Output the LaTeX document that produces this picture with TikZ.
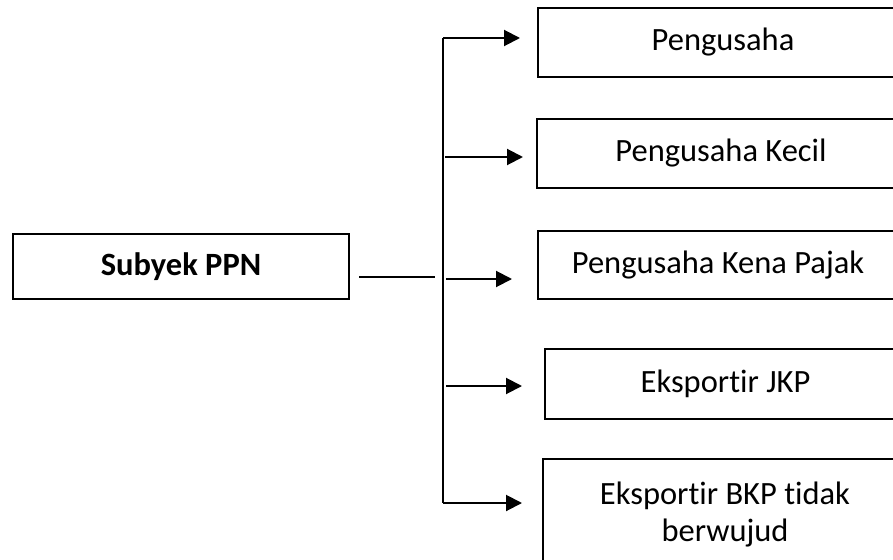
\documentclass[tikz,border=0pt]{standalone}
\usepackage{fontspec}
\setmainfont{Carlito}[Ligatures=CommonOff,RawFeature={-calt}]
\usetikzlibrary{arrows.meta}
\begin{document}
\begin{tikzpicture}[x=1pt,y=-1pt,
  boxstyle/.style={draw,line width=2pt,inner sep=0pt,anchor=west,align=center,
    font=\fontsize{32.5}{37}\selectfont},
  linkstyle/.style={line width=2pt},
  arrowstyle/.style={line width=2pt,-{Triangle[length=16pt,width=16pt]}}]
\useasboundingbox (0,0) rectangle (893,559);
\clip (0,0) rectangle (893,559);
\node[boxstyle,minimum width=336pt,minimum height=65pt,font=\fontsize{32.5}{37}\selectfont\bfseries] (sub) at (12,266.5) {Subyek PPN};
\node[boxstyle,minimum width=370pt,minimum height=69pt] (b1) at (537,42.5) {Pengusaha};
\node[boxstyle,minimum width=368pt,minimum height=69pt] (b2) at (536,153.5) {Pengusaha Kecil};
\node[boxstyle,minimum width=360pt,minimum height=68pt] (b3) at (537,265) {Pengusaha Kena Pajak};
\node[boxstyle,minimum width=361pt,minimum height=70pt] (b4) at (544,384) {Eksportir JKP};
\node[boxstyle,minimum width=364pt,minimum height=110pt] (b5) at (542,514) {Eksportir BKP tidak\\berwujud};
\coordinate (t1) at (443,38);
\coordinate (t2) at (443,157);
\coordinate (j) at (443,277);
\coordinate (t3) at (443,279);
\coordinate (t4) at (443,386);
\coordinate (t5) at (443,503);
\draw[linkstyle] (t1) -- (t5);
\draw[linkstyle,shorten <=9pt,shorten >=8pt] (sub.east |- j) -- (j);
\draw[arrowstyle,shorten >=17pt] (t1) -- (t1 -| b1.west);
\draw[arrowstyle,shorten <=2pt,shorten >=13pt] (t2) -- (t2 -| b2.west);
\draw[arrowstyle,shorten <=3pt,shorten >=25pt] (t3) -- (t3 -| b3.west);
\draw[arrowstyle,shorten <=3pt,shorten >=22pt] (t4) -- (t4 -| b4.west);
\draw[arrowstyle,shorten >=20pt] (t5) -- (t5 -| b5.west);
\end{tikzpicture}
\end{document}
